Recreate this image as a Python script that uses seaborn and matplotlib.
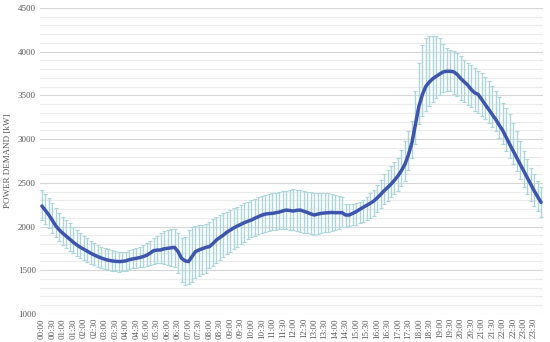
import numpy as np
import pandas as pd
import matplotlib
matplotlib.use("Agg")
import matplotlib.pyplot as plt
import seaborn as sns

# 10-minute profile, 00:00 .. 23:50
times = ["%02d:%02d" % (h, m) for h in range(24) for m in range(0, 60, 10)]

mean_kw = [
    2234, 2185, 2131, 2070, 2006, 1960, 1922, 1888, 1854, 1820, 1789, 1763,
    1740, 1716, 1694, 1674, 1656, 1640, 1626, 1615, 1607, 1602, 1599, 1601,
    1607, 1620, 1629, 1636, 1645, 1656, 1671, 1695, 1724, 1730, 1732, 1745,
    1751, 1758, 1762, 1713, 1637, 1607, 1599, 1656, 1713, 1732, 1747, 1762,
    1770, 1805, 1846, 1875, 1903, 1935, 1960, 1985, 2006, 2025, 2044, 2060,
    2074, 2095, 2112, 2130, 2142, 2148, 2150, 2158, 2165, 2178, 2188, 2182,
    2177, 2185, 2188, 2175, 2161, 2145, 2131, 2142, 2150, 2155, 2158, 2160,
    2158, 2158, 2158, 2131, 2131, 2150, 2169, 2195, 2218, 2240, 2264, 2290,
    2325, 2365, 2408, 2445, 2484, 2530, 2579, 2640, 2712, 2820, 2959, 3167,
    3376, 3509, 3604, 3653, 3691, 3718, 3745, 3768, 3775, 3775, 3768, 3737,
    3691, 3653, 3616, 3566, 3528, 3509, 3452, 3395, 3338, 3280, 3224, 3160,
    3099, 3020, 2940, 2865, 2788, 2712, 2636, 2560, 2484, 2410, 2340, 2276,
]

upper_kw = [
    2416, 2370, 2321, 2265, 2207, 2158, 2112, 2072, 2036, 1996, 1960, 1925,
    1892, 1864, 1838, 1812, 1789, 1770, 1751, 1740, 1732, 1722, 1713, 1710,
    1713, 1730, 1747, 1758, 1770, 1790, 1808, 1838, 1865, 1895, 1922, 1945,
    1960, 1968, 1971, 1922, 1865, 1884, 1960, 1990, 2006, 2017, 2017, 2025,
    2055, 2085, 2112, 2130, 2150, 2170, 2188, 2208, 2226, 2245, 2264, 2285,
    2302, 2318, 2332, 2345, 2359, 2370, 2378, 2388, 2397, 2402, 2408, 2418,
    2424, 2420, 2416, 2405, 2397, 2390, 2386, 2386, 2386, 2382, 2378, 2368,
    2359, 2350, 2340, 2260, 2256, 2260, 2264, 2282, 2302, 2340, 2378, 2420,
    2470, 2530, 2600, 2650, 2693, 2740, 2788, 2880, 2978, 3090, 3205, 3547,
    3870, 4079, 4155, 4174, 4174, 4174, 4155, 4087, 4041, 4022, 4003, 3984,
    3946, 3908, 3870, 3844, 3814, 3783, 3757, 3715, 3669, 3610, 3547, 3480,
    3414, 3350, 3281, 3185, 3091, 2980, 2864, 2770, 2674, 2600, 2522, 2446,
]

lower_kw = [
    2074, 2025, 1979, 1925, 1876, 1830, 1789, 1755, 1724, 1692, 1664, 1640,
    1618, 1595, 1572, 1556, 1542, 1526, 1512, 1503, 1496, 1490, 1485, 1488,
    1496, 1510, 1523, 1530, 1534, 1542, 1550, 1562, 1572, 1577, 1580, 1570,
    1561, 1548, 1534, 1466, 1371, 1333, 1344, 1371, 1409, 1436, 1458, 1474,
    1523, 1550, 1580, 1615, 1648, 1680, 1713, 1742, 1770, 1800, 1827, 1852,
    1876, 1895, 1914, 1928, 1941, 1950, 1960, 1965, 1968, 1968, 1968, 1965,
    1960, 1950, 1941, 1930, 1922, 1912, 1903, 1912, 1922, 1932, 1941, 1950,
    1960, 1975, 1990, 2000, 2006, 2012, 2017, 2035, 2055, 2075, 2093, 2120,
    2170, 2215, 2256, 2295, 2332, 2370, 2408, 2465, 2522, 2650, 2788, 2940,
    3167, 3262, 3319, 3376, 3425, 3471, 3509, 3539, 3554, 3547, 3516, 3490,
    3452, 3425, 3395, 3364, 3326, 3300, 3262, 3225, 3186, 3140, 3091, 3015,
    2940, 2865, 2788, 2712, 2636, 2540, 2446, 2370, 2294, 2235, 2180, 2104,
]

df = pd.DataFrame({"time": times, "mean": mean_kw, "upper": upper_kw, "lower": lower_kw})
df["idx"] = range(len(df))

sns.set_style("white")
plt.rcParams["font.family"] = ["Liberation Serif", "DejaVu Serif"]

fig = plt.figure(figsize=(5.5, 3.42), dpi=100)
ax = fig.add_axes([0.073, 0.082, 0.914, 0.895])

# grid: minor every 100, major every 500
for v in range(1000, 4501, 100):
    ax.axhline(v, color="#d6d6d6" if v % 500 == 0 else "#ebebeb", lw=0.8, zorder=0)

ax.errorbar(df["idx"], df["mean"],
            yerr=[df["mean"] - df["lower"], df["upper"] - df["mean"]],
            fmt="none", ecolor="#acd6da", elinewidth=1.0, capsize=1.5, capthick=0.8, zorder=2)

sns.lineplot(data=df, x="idx", y="mean", color="#3d55ad", linewidth=2.5, ax=ax, zorder=3)

ax.set_xlim(-0.5, 143.5)
ax.set_ylim(1000, 4500)
ax.set_yticks(range(1000, 4501, 500))
ax.set_xticks(df["idx"][::3])
ax.set_xticklabels(df["time"][::3], rotation=90)
ax.tick_params(axis="both", labelsize=6.5, colors="#595959", length=0, pad=3)
ax.set_xlabel("")
ax.set_ylabel("POWER DEMAND [kW]", fontsize=6.5, color="#595959", labelpad=4)
for s in ax.spines.values():
    s.set_visible(False)

fig.savefig("out.png", dpi=100)
